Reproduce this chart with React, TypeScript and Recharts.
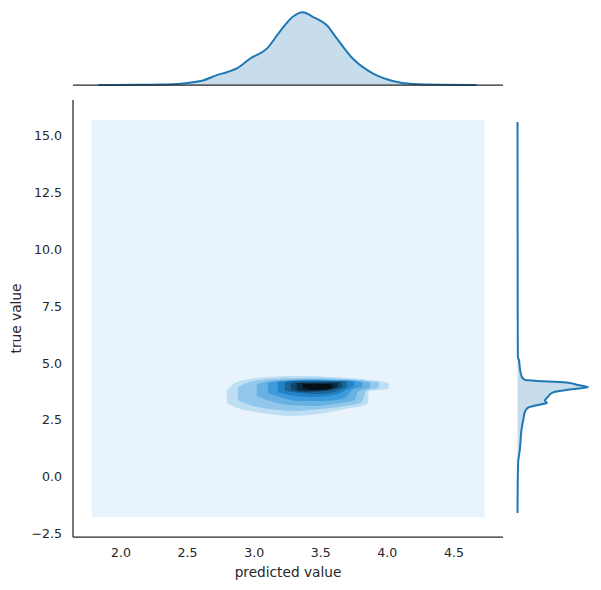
import { ComposedChart, Area, XAxis, YAxis } from 'recharts';

// shared axes of the joint plot
const X_DOMAIN = [1.64, 4.868];
const Y_DOMAIN = [-2.654, 16.585];
const X_TICKS = [2.0, 2.5, 3.0, 3.5, 4.0, 4.5];
const Y_TICKS = [-2.5, 0, 2.5, 5, 7.5, 10, 12.5, 15];

// marginal KDE of predicted value: [x, density]
const margX = [
  [1.83, 0], [2.1, 0.003], [2.3, 0.01], [2.45, 0.03], [2.54, 0.06], [2.615, 0.1],
  [2.72, 0.22], [2.8, 0.29], [2.87, 0.37], [2.97, 0.59], [3.095, 0.81], [3.19, 1.18],
  [3.29, 1.52], [3.365, 1.62], [3.44, 1.52], [3.545, 1.33], [3.62, 1.04], [3.74, 0.59],
  [3.89, 0.26], [4.04, 0.09], [4.19, 0.02], [4.4, 0.004], [4.67, 0],
];

// marginal KDE of true value: [y, density]
const margY = [
  [15.62, 0], [12, 0.003], [8, 0.005], [6, 0.008], [5.27, 0.01], [5.14, 0.04],
  [4.75, 0.07], [4.4, 0.12], [4.26, 0.21], [4.2, 0.75], [4.14, 1.44], [4.04, 1.72],
  [3.94, 2.01], [3.85, 1.54], [3.74, 1.07], [3.63, 0.93], [3.52, 0.87], [3.35, 0.78],
  [3.25, 0.84], [3.16, 0.58], [3.03, 0.29], [2.85, 0.21], [2.64, 0.18], [2.06, 0.114],
  [1.18, 0.066], [0.6, 0.017], [-0.5, 0.005], [-1.6, 0],
];

// filled contour bands: [x, yLow, yHigh]
const kdeGrid = [[1.78, -1.774, 15.7], [4.73, -1.774, 15.7]];
const level1 = [
  [2.795, 3.246, 3.819], [2.855, 3.069, 4.127], [2.968, 2.893, 4.302], [3.118, 2.761, 4.39],
  [3.268, 2.673, 4.434], [3.418, 2.717, 4.434], [3.568, 2.849, 4.39], [3.718, 3.025, 4.346],
  [3.808, 3.113, 4.302], [3.853, 3.246, 4.258], [3.86, 3.774, 4.258], [3.943, 3.819, 4.214],
  [4.01, 3.863, 4.127],
];
const level2 = [
  [2.878, 3.378, 3.951], [2.968, 3.157, 4.17], [3.118, 2.981, 4.302], [3.305, 2.893, 4.346],
  [3.493, 2.981, 4.346], [3.68, 3.113, 4.302], [3.793, 3.246, 4.258], [3.823, 3.466, 4.258],
  [3.838, 3.774, 4.214], [3.935, 3.907, 4.17],
];
const level3 = [
  [3.02, 3.554, 4.083], [3.118, 3.334, 4.214], [3.268, 3.157, 4.258], [3.455, 3.113, 4.302],
  [3.643, 3.246, 4.258], [3.755, 3.378, 4.258], [3.778, 3.73, 4.214], [3.868, 3.907, 4.17],
];
const level4 = [
  [3.103, 3.686, 4.127], [3.193, 3.51, 4.214], [3.343, 3.334, 4.258], [3.53, 3.334, 4.258],
  [3.68, 3.466, 4.258], [3.733, 3.819, 4.214], [3.808, 3.951, 4.17],
];
const level5 = [
  [3.178, 3.73, 4.17], [3.268, 3.598, 4.214], [3.418, 3.51, 4.258], [3.605, 3.598, 4.214],
  [3.703, 3.863, 4.214], [3.748, 3.995, 4.17],
];
const level6 = [
  [3.23, 3.774, 4.17], [3.343, 3.686, 4.214], [3.493, 3.642, 4.214], [3.643, 3.819, 4.214],
  [3.695, 3.951, 4.17],
];
const level7 = [[3.275, 3.819, 4.127], [3.38, 3.73, 4.17], [3.53, 3.774, 4.17], [3.658, 3.951, 4.17]];
const level8 = [[3.32, 3.819, 4.127], [3.418, 3.774, 4.127], [3.553, 3.819, 4.127], [3.628, 3.951, 4.127]];
const level9 = [[3.365, 3.907, 4.083], [3.455, 3.819, 4.083], [3.553, 3.863, 4.083], [3.59, 3.951, 4.039]];

const levelColors = [
  '#E9F3FB', '#BEDEF4', '#92C7EC', '#67B1E3', '#3B9BDD',
  '#2282C4', '#1A6498', '#13486D', '#0B2B41', '#040F16',
];

const INK = '#262626';
const LINE = '#1f77b4';
const FONT = '"DejaVu Sans", sans-serif';

const levels = [kdeGrid, level1, level2, level3, level4, level5, level6, level7, level8, level9];

const contourRows = Array.from(new Set(levels.flat().map((p) => p[0])))
  .sort((a, b) => a - b)
  .map((x) => {
    const row: Record<string, any> = { x };
    levels.forEach((lv, i) => {
      const p = lv.find((pt) => pt[0] === x);
      if (p) row['l' + i] = [p[1], p[2]];
    });
    return row;
  });

const topRows = margX.map(([x, d]) => ({ x, d }));
const sideRows = margY.map(([y, d]) => ({ y, d }));

const fmt = (v: number) => v.toFixed(1).replace('-', '\u2212');

function MainPlot() {
  return (
    <ComposedChart
      width={601}
      height={590}
      data={contourRows}
      margin={{ top: 100, right: 98, left: 0, bottom: 0 }}
    >
      <XAxis
        type="number"
        dataKey="x"
        domain={X_DOMAIN}
        ticks={X_TICKS}
        allowDataOverflow
        tickFormatter={fmt}
        tickLine={false}
        tickSize={6}
        tickMargin={5}
        height={53}
        axisLine={{ stroke: INK, strokeWidth: 1.25 }}
        tick={{ fill: INK, fontSize: 12.6, fontFamily: FONT }}
        label={{ value: 'predicted value', position: 'insideBottom', offset: 13, fill: INK, fontSize: 13.7, fontFamily: FONT }}
      />
      <YAxis
        type="number"
        domain={Y_DOMAIN}
        ticks={Y_TICKS}
        allowDataOverflow
        tickFormatter={fmt}
        tickLine={false}
        tickSize={6}
        tickMargin={5}
        width={73}
        axisLine={{ stroke: INK, strokeWidth: 1.25 }}
        tick={{ fill: INK, fontSize: 12.6, fontFamily: FONT }}
        label={{
          content: (props: any) => {
            const vb = props.viewBox || { x: 0, y: 100, height: 437 };
            const cx = vb.x + 16;
            const cy = vb.y + vb.height / 2;
            return (
              <text
                x={cx}
                y={cy}
                transform={`rotate(-90 ${cx} ${cy})`}
                textAnchor="middle"
                dominantBaseline="central"
                fill={INK}
                fontSize={13.7}
                fontFamily={FONT}
              >
                true value
              </text>
            );
          },
        }}
      />
      {levels.map((_, i) => (
        <Area
          key={i}
          type={i === 0 ? 'linear' : 'monotone'}
          dataKey={'l' + i}
          stroke="none"
          fill={levelColors[i]}
          fillOpacity={1}
          connectNulls
          dot={false}
          activeDot={false}
          isAnimationActive={false}
        />
      ))}
    </ComposedChart>
  );
}

function TopMarginal() {
  return (
    <ComposedChart
      width={601}
      height={86}
      data={topRows}
      margin={{ top: 8.7, right: 98, left: 73, bottom: 0 }}
    >
      <XAxis
        type="number"
        dataKey="x"
        domain={X_DOMAIN}
        allowDataOverflow
        tick={false}
        tickLine={false}
        height={1}
        axisLine={{ stroke: INK, strokeWidth: 1.25 }}
      />
      <YAxis hide type="number" domain={[0, 1.7]} />
      <Area
        type="monotone"
        dataKey="d"
        stroke={LINE}
        strokeWidth={2}
        fill={LINE}
        fillOpacity={0.25}
        dot={false}
        activeDot={false}
        isAnimationActive={false}
      />
    </ComposedChart>
  );
}

function SideMarginal() {
  return (
    <ComposedChart
      layout="vertical"
      width={601}
      height={590}
      data={sideRows}
      margin={{ top: 100, right: 9.5, left: 517.5, bottom: 53 }}
    >
      <XAxis hide type="number" domain={[0, 2.11]} />
      <YAxis
        type="number"
        dataKey="y"
        domain={Y_DOMAIN}
        reversed
        allowDataOverflow
        tick={false}
        tickLine={false}
        width={0}
        axisLine={{ stroke: INK, strokeWidth: 1.25 }}
      />
      <Area
        type="monotone"
        dataKey="d"
        stroke={LINE}
        strokeWidth={2}
        fill={LINE}
        fillOpacity={0.25}
        dot={false}
        activeDot={false}
        isAnimationActive={false}
      />
    </ComposedChart>
  );
}

export default function App() {
  return (
    <div style={{ position: 'absolute', left: 0, top: 0, width: 601, height: 590, background: '#fff', fontFamily: FONT }}>
      <div style={{ position: 'absolute', left: 0, top: 0 }}>
        <MainPlot />
      </div>
      <div style={{ position: 'absolute', left: 0, top: 0 }}>
        <TopMarginal />
      </div>
      <div style={{ position: 'absolute', left: 0, top: 0 }}>
        <SideMarginal />
      </div>
    </div>
  );
}
